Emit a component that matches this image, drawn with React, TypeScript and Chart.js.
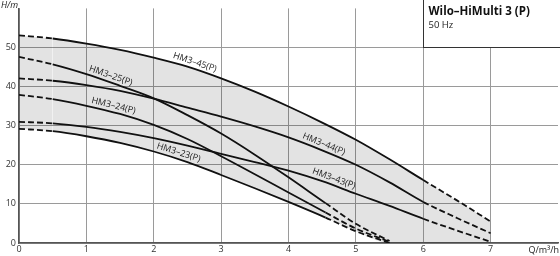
import React, { useEffect, useRef } from 'react';
import { Chart, registerables } from 'chart.js';

Chart.register(...registerables);

// ---- data ----
const curveNames = ['HM3–45(P)', 'HM3–44(P)', 'HM3–43(P)', 'HM3–25(P)', 'HM3–24(P)', 'HM3–23(P)'];

const qLong = [0, 0.5, 1, 1.5, 2, 2.5, 3, 3.5, 4, 4.5, 5, 5.5, 6, 6.5, 7];
const qShort = [0, 0.5, 1, 1.5, 2, 2.5, 3, 3.5, 4, 4.55, 5, 5.5];

const h45 = [53.1, 52.3, 51.0, 49.4, 47.4, 45.1, 42.1, 38.7, 34.9, 30.8, 26.4, 21.4, 16.1, 10.9, 5.5];
const h44 = [42.1, 41.5, 40.4, 38.9, 36.9, 34.6, 32.3, 29.8, 27.0, 23.7, 20.0, 15.5, 10.5, 6.4, 2.5];
const h43 = [31.0, 30.6, 29.7, 28.4, 26.8, 24.9, 22.8, 20.7, 18.5, 15.8, 12.6, 9.5, 6.2, 3.2, 0.3];
const h25 = [47.6, 45.7, 43.2, 40.2, 37.0, 32.7, 28.0, 22.6, 16.8, 10.2, 4.9, 0.5];
const h24 = [37.9, 36.8, 35.1, 33.0, 30.2, 26.6, 22.2, 17.6, 12.9, 7.8, 3.7, 0.3];
const h23 = [29.2, 28.6, 27.3, 25.6, 23.4, 20.7, 17.4, 14.0, 10.5, 6.5, 3.0, 0.0];

const curveQ = [qLong, qLong, qLong, qShort, qShort, qShort];
const curveH = [h45, h44, h43, h25, h24, h23];
const solidFrom = [0.5, 0.5, 0.5, 0.5, 0.5, 0.5];
const solidTo = [6, 6, 6, 4.55, 4.55, 4.55];
const labelQ = [2.58, 4.49, 4.64, 1.33, 1.38, 2.34];

const xTicks = [0, 1, 2, 3, 4, 5, 6, 7];
const yTicks = [0, 10, 20, 30, 40, 50];
const xMax = 8;
const yMax = 60;
const xUnit = 'Q/m³/h';
const yUnit = 'H/m';
const titleMain = 'Wilo–HiMulti 3 (P)';
const titleSub = '50 Hz';
const titleFromQ = 6;
const titleToH = 50;

const FONT = "'Open Sans', 'DejaVu Sans', sans-serif";

function interp(qs: number[], hs: number[], q: number) {
  for (let i = 0; i < qs.length - 1; i++) {
    if (q >= qs[i] && q <= qs[i + 1]) {
      const t = (q - qs[i]) / (qs[i + 1] - qs[i]);
      return hs[i] + t * (hs[i + 1] - hs[i]);
    }
  }
  return hs[hs.length - 1];
}

const decorPlugin = {
  id: 'decor',
  afterDatasetsDraw(chart: any) {
    const { ctx, scales } = chart;
    const xs = scales.x;
    const ys = scales.y;
    ctx.save();
    ctx.fillStyle = '#1a1a1a';
    ctx.font = `9px ${FONT}`;
    ctx.textAlign = 'center';
    ctx.textBaseline = 'bottom';
    curveNames.forEach((name, i) => {
      const q = labelQ[i];
      const h = interp(curveQ[i], curveH[i], q);
      const px = xs.getPixelForValue(q);
      const py = ys.getPixelForValue(h);
      const x0 = xs.getPixelForValue(q - 0.15);
      const y0 = ys.getPixelForValue(interp(curveQ[i], curveH[i], q - 0.15));
      const x1 = xs.getPixelForValue(q + 0.15);
      const y1 = ys.getPixelForValue(interp(curveQ[i], curveH[i], q + 0.15));
      const ang = Math.atan2(y1 - y0, x1 - x0);
      ctx.save();
      ctx.translate(px, py);
      ctx.rotate(ang);
      ctx.fillText(name, 0, -2);
      ctx.restore();
    });
    ctx.restore();
  },
  afterDraw(chart: any) {
    const { ctx, scales, width } = chart;
    const xs = scales.x;
    const ys = scales.y;
    ctx.save();
    // title box
    const l = Math.round(xs.getPixelForValue(titleFromQ)) + 0.5;
    const b = Math.round(ys.getPixelForValue(titleToH)) + 0.5;
    ctx.fillStyle = '#ffffff';
    ctx.fillRect(l, -2, width - l + 4, b + 2);
    ctx.strokeStyle = '#333';
    ctx.lineWidth = 1;
    ctx.strokeRect(l, -2, width - l + 4, b + 2);
    ctx.fillStyle = '#111';
    ctx.textAlign = 'left';
    ctx.textBaseline = 'alphabetic';
    ctx.font = `bold 11.5px ${FONT}`;
    ctx.fillText(titleMain, l + 5, 15);
    ctx.font = `9.5px ${FONT}`;
    ctx.fillStyle = '#222';
    ctx.fillText(titleSub, l + 5, 28);
    // axis units
    ctx.fillStyle = '#222';
    ctx.textAlign = 'right';
    ctx.textBaseline = 'top';
    ctx.font = `italic 9px ${FONT}`;
    ctx.fillText(yUnit, 18, 1);
    ctx.textBaseline = 'middle';
    ctx.font = `9px ${FONT}`;
    ctx.fillText(xUnit, width - 1, 250);
    ctx.restore();
  },
};

export default function App() {
  const ref = useRef<HTMLCanvasElement | null>(null);
  useEffect(() => {
    document.body.style.margin = '0';
    if (!ref.current) return;
    const lineSets = curveNames.map((name, i) => ({
      label: name,
      data: curveQ[i].map((q, j) => ({ x: q, y: curveH[i][j] })),
      borderColor: '#111',
      borderWidth: 1.8,
      pointRadius: 0,
      cubicInterpolationMode: 'monotone' as const,
      fill: i === 0 ? { target: curveNames.length } : false,
      backgroundColor: 'rgba(0,0,0,0.11)',
      segment: {
        borderDash: (c: any) =>
          c.p1.parsed.x <= solidFrom[i] + 1e-6 || c.p0.parsed.x >= solidTo[i] - 1e-6 ? [6, 3] : undefined,
      },
    }));
    const lowerIdx = curveNames.length - 1;
    const envelope = {
      label: 'envelope',
      data: [
        ...curveQ[lowerIdx].map((q, j) => ({ x: q, y: curveH[lowerIdx][j] })),
        { x: qLong[qLong.length - 1], y: 0 },
      ],
      borderColor: 'rgba(0,0,0,0)',
      borderWidth: 0,
      pointRadius: 0,
      cubicInterpolationMode: 'monotone' as const,
      fill: false,
    };
    const chart = new Chart(ref.current, {
      type: 'line',
      data: { datasets: [...lineSets, envelope] as any },
      options: {
        animation: false,
        responsive: true,
        maintainAspectRatio: false,
        layout: { padding: { top: 1, right: 2, left: 0, bottom: 0 } },
        plugins: {
          legend: { display: false },
          tooltip: { enabled: false },
          filler: { drawTime: 'beforeDatasetsDraw' } as any,
        },
        scales: {
          x: {
            type: 'linear',
            min: 0,
            max: xMax,
            afterFit: (s: any) => { s.height = 13; },
            afterBuildTicks: (s: any) => { s.ticks = [...xTicks, xMax].map((v) => ({ value: v })); },
            ticks: {
              padding: 1,
              font: { size: 9, family: FONT },
              color: '#333',
              maxRotation: 0,
              autoSkip: false,
              callback: (v: any) => (xTicks.includes(Number(v)) ? String(v) : ''),
            },
            grid: {
              drawTicks: false,
              color: (c: any) => (c.tick && c.tick.value === xMax ? 'rgba(0,0,0,0)' : '#9a9a9a'),
              lineWidth: 1,
            },
            border: { color: '#555', width: 1.5 },
          },
          y: {
            type: 'linear',
            min: 0,
            max: yMax,
            afterFit: (s: any) => { s.width = 19; },
            afterBuildTicks: (s: any) => { s.ticks = [...yTicks, yMax].map((v) => ({ value: v })); },
            ticks: {
              padding: 3,
              font: { size: 9, family: FONT },
              color: '#333',
              autoSkip: false,
              callback: (v: any) => (yTicks.includes(Number(v)) ? String(v) : ''),
            },
            grid: {
              drawTicks: false,
              color: (c: any) => (c.tick && c.tick.value === yMax ? 'rgba(0,0,0,0)' : '#9a9a9a'),
              lineWidth: 1,
            },
            border: { color: '#555', width: 1.5 },
          },
        },
      },
      plugins: [decorPlugin],
    });
    return () => chart.destroy();
  }, []);
  return (
    <div style={{ position: 'relative', width: 560, height: 256 }}>
      <canvas ref={ref} />
    </div>
  );
}
